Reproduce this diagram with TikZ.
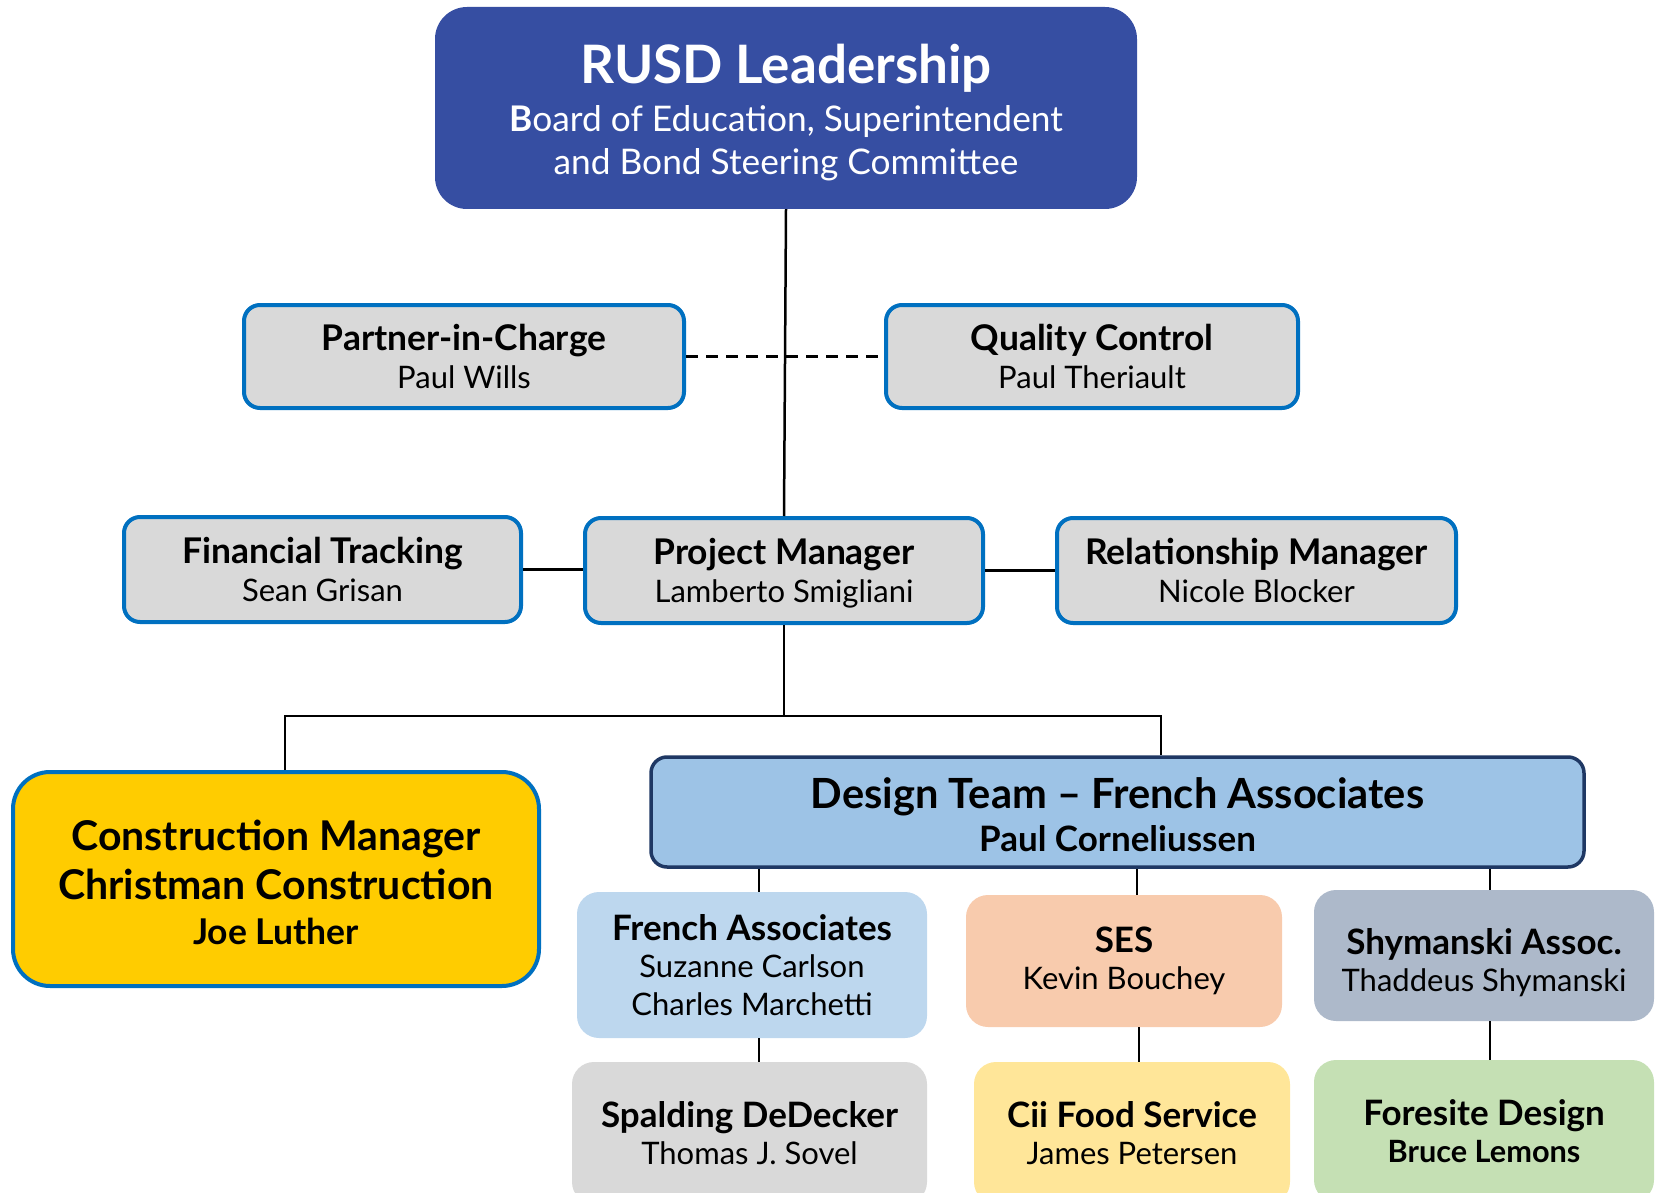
\documentclass[tikz,border=0pt]{standalone}
\usepackage{fontspec}
\setmainfont{Lato}
\usetikzlibrary{positioning,calc}
\definecolor{rusdblue}{RGB}{54,78,162}
\definecolor{edgeblue}{RGB}{0,112,192}
\definecolor{boxgray}{RGB}{217,217,217}
\definecolor{cmgold}{RGB}{255,204,0}
\definecolor{teamblue}{RGB}{157,195,230}
\definecolor{teamedge}{RGB}{31,56,100}
\definecolor{frenchblue}{RGB}{189,215,238}
\definecolor{sespeach}{RGB}{248,203,173}
\definecolor{shyslate}{RGB}{173,185,202}
\definecolor{ciiyellow}{RGB}{255,230,153}
\definecolor{foregreen}{RGB}{197,224,180}

\begin{document}
\begin{tikzpicture}[x=1pt,y=-1pt,
    role/.style={draw=edgeblue, line width=4pt, fill=boxgray, rounded corners=16pt,
        align=center, inner sep=0pt, font=\fontsize{31}{38}\selectfont},
    firm/.style={fill=#1, rounded corners=22pt, align=center, inner sep=0pt,
        font=\fontsize{31}{37.5}\selectfont},
    link/.style={line width=2.5pt}]
    \useasboundingbox (0,0) rectangle (1658,1193);

    % Leadership
    \node[fill=rusdblue, rounded corners=32pt, minimum width=702pt, minimum height=202pt,
        text=white, align=center, inner sep=0pt, font=\fontsize{35.3}{42.5}\selectfont] (lead) at (786,108)
        {\rule{0pt}{48pt}{\bfseries\fontsize{53}{46}\selectfont RUSD Leadership}\\[6pt]\textbf{B}oard of Education, Superintendent\\and Bond Steering Committee};

    % Oversight row
    \node[role, minimum width=440pt, minimum height=103pt] (pic) at (464,356.5)
        {{\bfseries\fontsize{35.4}{38}\selectfont Partner-in-Charge}\\Paul Wills};
    \node[role, minimum width=412pt, minimum height=103pt] (qc) at (1092,356.5)
        {{\bfseries\fontsize{35.4}{38}\selectfont Quality Control}\\Paul Theriault};

    % Management row
    \node[role, minimum width=397pt, minimum height=105pt] (fin) at (322.5,569.5)
        {{\bfseries\fontsize{35.4}{38}\selectfont Financial Tracking}\\Sean Grisan};
    \node[role, minimum width=398pt, minimum height=105pt] (pm) at (784,570.5)
        {\rule{0pt}{32pt}{\bfseries\fontsize{35.4}{38}\selectfont Project Manager}\\Lamberto Smigliani};
    \node[role, minimum width=399pt, minimum height=105pt] (rel) at (1256.5,570.5)
        {{\bfseries\fontsize{35.4}{38}\selectfont Relationship Manager}\\Nicole Blocker};

    % Construction and design
    \node[draw=edgeblue, line width=4pt, fill=cmgold, rounded corners=37pt, minimum width=526pt,
        minimum height=214pt, align=center, inner sep=0pt, font=\bfseries\fontsize{41}{49}\selectfont] (cm) at (276,879)
        {\rule{0pt}{38pt}Construction Manager\\Christman Construction\\[-4pt]{\fontsize{35.5}{44}\selectfont Joe Luther}};
    \node[draw=teamedge, line width=3.5pt, fill=teamblue, rounded corners=16pt, minimum width=933pt,
        minimum height=110pt, align=center, inner sep=0pt, font=\bfseries\fontsize{35}{43}\selectfont] (dt) at (1117.5,812)
        {\rule{0pt}{36pt}{\fontsize{41.6}{43}\selectfont Design Team – French Associates}\\Paul Corneliussen};

    % Consultants
    \node[firm=frenchblue, minimum width=350pt, minimum height=146pt] (fa) at (752,965)
        {{\bfseries\fontsize{35}{37.5}\selectfont French Associates}\\Suzanne Carlson\\Charles Marchetti};
    \node[firm=sespeach, minimum width=316pt, minimum height=132pt] (ses) at (1124,961)
        {{\bfseries\fontsize{35}{38}\selectfont SES}\\Kevin Bouchey};
    \node[firm=shyslate, minimum width=340pt, minimum height=131pt] (shy) at (1484,955.5)
        {\rule{0pt}{40pt}{\bfseries\fontsize{35}{38}\selectfont Shymanski Assoc.}\\Thaddeus Shymanski};
    \node[firm=boxgray, minimum width=355pt, minimum height=142pt] (sd) at (749.5,1133)
        {{\bfseries\fontsize{35}{38}\selectfont Spalding DeDecker}\\Thomas J. Sovel};
    \node[firm=ciiyellow, minimum width=316pt, minimum height=142pt] (cii) at (1132,1133)
        {{\bfseries\fontsize{35}{38}\selectfont Cii Food Service}\\James Petersen};
    \node[firm=foregreen, minimum width=340pt, minimum height=142pt] (fd) at (1484,1131)
        {{\bfseries\fontsize{35}{38}\selectfont Foresite Design}\\{\bfseries\fontsize{30.7}{38}\selectfont Bruce Lemons}};

    % Connectors
    \draw[link] (lead.south) -- (pm.north);
    \draw[link, dashed, dash pattern=on 12pt off 8pt] (pic.east) -- (qc.west);
    \draw[link] (fin.east) -- (fin.east -| pm.west);
    \draw[link] (pm.east) -- (pm.east -| rel.west);
    \coordinate (busL) at (285,716);
    \coordinate (busR) at (1161,716);
    \draw[link] (pm.south) -- (pm.south |- busL);
    \draw[link] (busL |- cm.north) -- (busL) -- (busR) -- (busR |- dt.north);
    \draw[link] ([xshift=7pt]fa.north) -- ([xshift=7pt]fa.north |- dt.south);
    \draw[link] ([xshift=13pt]ses.north) -- ([xshift=13pt]ses.north |- dt.south);
    \draw[link] ([xshift=6pt]shy.north) -- ([xshift=6pt]shy.north |- dt.south);
    \draw[link] ([xshift=7pt]fa.south) -- ([xshift=7pt]fa.south |- sd.north);
    \draw[link] ([xshift=15pt]ses.south) -- ([xshift=15pt]ses.south |- cii.north);
    \draw[link] ([xshift=6pt]shy.south) -- ([xshift=6pt]shy.south |- fd.north);
\end{tikzpicture}
\end{document}
